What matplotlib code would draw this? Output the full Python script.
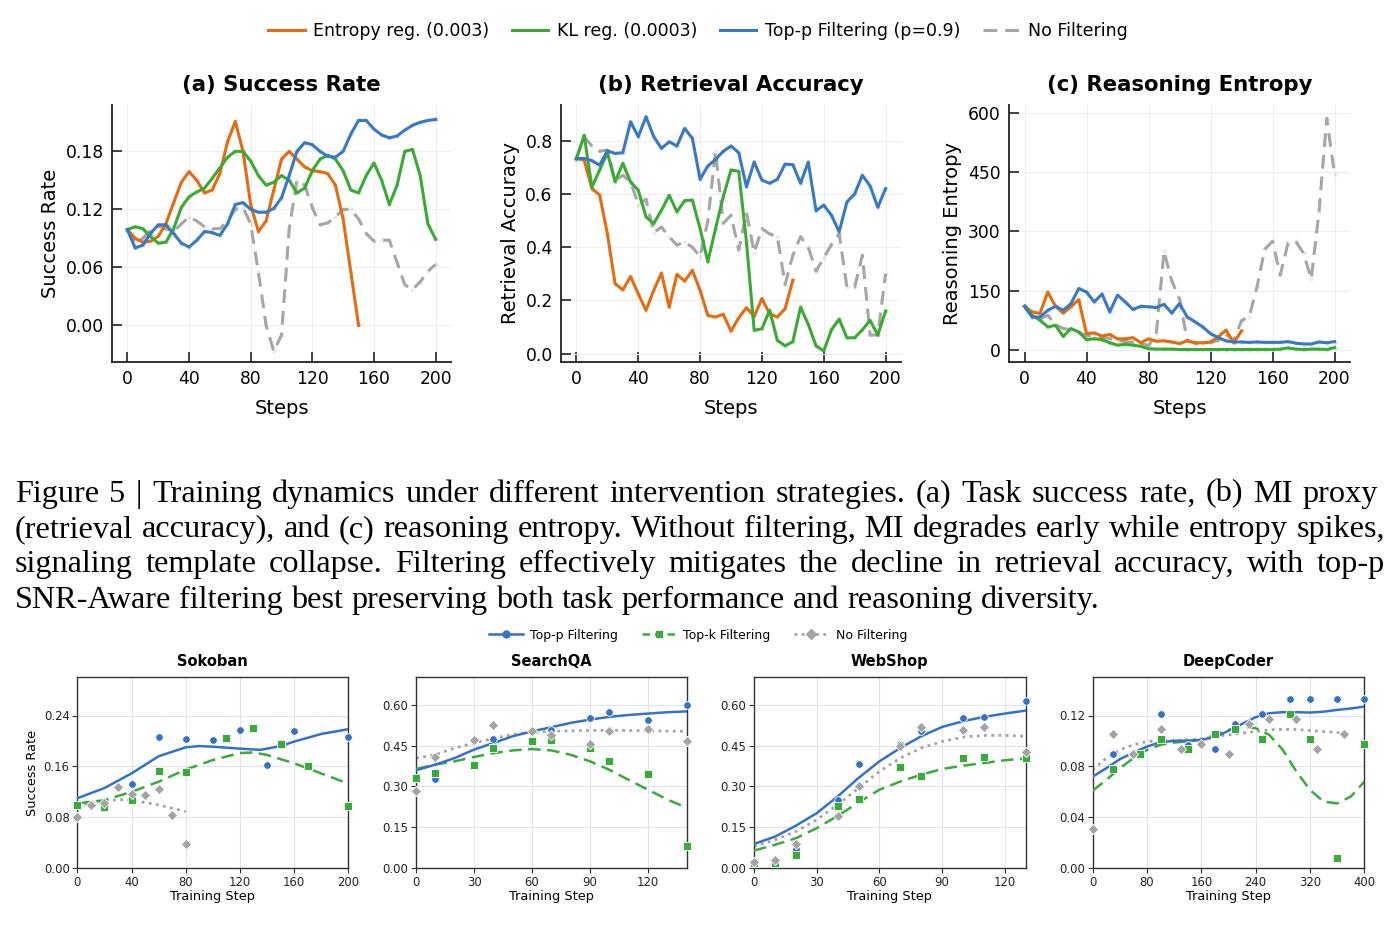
import numpy as np
import matplotlib
matplotlib.use("Agg")
import matplotlib.pyplot as plt
from matplotlib.lines import Line2D

# ---------------- DATA: top figure ----------------
steps_a = list(range(0, 205, 5))
steps_a_ent = list(range(0, 155, 5))
steps_b_ent = list(range(0, 145, 5))

a_entropy = [0.099, 0.090, 0.086, 0.087, 0.092, 0.105, 0.127, 0.148, 0.159, 0.150, 0.137, 0.140,
             0.157, 0.190, 0.211, 0.180, 0.125, 0.097, 0.108, 0.140, 0.172, 0.180, 0.172, 0.164,
             0.160, 0.159, 0.157, 0.145, 0.110, 0.055, 0.000]
a_kl = [0.099, 0.102, 0.100, 0.092, 0.085, 0.086, 0.100, 0.122, 0.133, 0.138, 0.142, 0.152, 0.163,
        0.174, 0.180, 0.180, 0.170, 0.155, 0.145, 0.148, 0.155, 0.150, 0.137, 0.142, 0.160, 0.172,
        0.176, 0.172, 0.160, 0.140, 0.137, 0.155, 0.168, 0.150, 0.125, 0.145, 0.180, 0.182, 0.155,
        0.105, 0.089]
a_topp = [0.099, 0.080, 0.083, 0.095, 0.104, 0.104, 0.095, 0.085, 0.081, 0.088, 0.097, 0.096, 0.093,
          0.105, 0.125, 0.127, 0.120, 0.117, 0.117, 0.121, 0.132, 0.155, 0.180, 0.189, 0.187, 0.180,
          0.175, 0.174, 0.180, 0.198, 0.212, 0.212, 0.203, 0.197, 0.194, 0.196, 0.202, 0.207, 0.210,
          0.212, 0.213]
a_nofilt = [0.099, 0.085, 0.090, 0.098, 0.103, 0.100, 0.097, 0.105, 0.112, 0.108, 0.102, 0.100, 0.100,
            0.108, 0.120, 0.122, 0.105, 0.055, 0.000, -0.027, -0.010, 0.100, 0.150, 0.145, 0.122,
            0.104, 0.106, 0.112, 0.120, 0.120, 0.110, 0.095, 0.087, 0.088, 0.088, 0.065, 0.042, 0.037,
            0.045, 0.056, 0.063]

b_entropy = [0.733, 0.727, 0.620, 0.596, 0.451, 0.263, 0.240, 0.290, 0.225, 0.163, 0.238, 0.303,
             0.175, 0.298, 0.273, 0.313, 0.238, 0.144, 0.138, 0.148, 0.085, 0.135, 0.173, 0.140,
             0.207, 0.150, 0.138, 0.169, 0.276]
b_kl = [0.733, 0.820, 0.625, 0.690, 0.755, 0.646, 0.715, 0.645, 0.614, 0.514, 0.489, 0.539, 0.595,
        0.533, 0.575, 0.577, 0.470, 0.345, 0.470, 0.590, 0.690, 0.685, 0.420, 0.088, 0.094, 0.163,
        0.050, 0.030, 0.045, 0.175, 0.110, 0.030, 0.010, 0.090, 0.130, 0.060, 0.060, 0.090, 0.125,
        0.070, 0.160]
b_topp = [0.733, 0.733, 0.725, 0.708, 0.762, 0.752, 0.755, 0.871, 0.815, 0.890, 0.815, 0.771, 0.796,
          0.780, 0.846, 0.809, 0.655, 0.705, 0.730, 0.760, 0.780, 0.755, 0.627, 0.720, 0.652, 0.640,
          0.655, 0.712, 0.710, 0.640, 0.720, 0.537, 0.558, 0.520, 0.458, 0.570, 0.600, 0.670, 0.630,
          0.550, 0.620]
b_nofilt = [0.733, 0.815, 0.780, 0.760, 0.765, 0.650, 0.670, 0.646, 0.560, 0.580, 0.455, 0.476, 0.439,
            0.408, 0.420, 0.400, 0.364, 0.500, 0.760, 0.490, 0.520, 0.390, 0.530, 0.380, 0.470, 0.450,
            0.440, 0.260, 0.370, 0.440, 0.400, 0.310, 0.360, 0.410, 0.450, 0.250, 0.250, 0.370, 0.070,
            0.070, 0.300]

c_entropy = [111, 97, 93, 147, 111, 94, 110, 128, 42, 44, 36, 40, 29, 29, 32, 19, 29, 23, 24, 21, 17,
             24, 19, 19, 21, 34, 51, 19, 49]
c_kl = [111, 88, 76, 59, 63, 35, 55, 46, 27, 29, 27, 19, 13, 15, 13, 10, 4, 3, 3, 3, 2, 2, 2, 2, 2, 2,
        2, 2, 2, 2, 2, 2, 2, 3, 6, 3, 2, 3, 3, 2, 7]
c_topp = [111, 84, 84, 101, 111, 101, 118, 156, 147, 122, 142, 97, 139, 122, 103, 111, 110, 108, 116,
          94, 118, 84, 72, 59, 42, 32, 24, 21, 21, 20, 21, 20, 20, 20, 22, 18, 16, 16, 21, 19, 22]
c_nofilt = [111, 84, 80, 88, 65, 55, 52, 45, 38, 35, 32, 30, 25, 22, 20, 18, 12, 40, 250, 175, 130, 25,
            18, 18, 20, 25, 40, 25, 75, 85, 160, 255, 275, 190, 270, 275, 245, 180, 350, 585, 445]

top_legend = ["Entropy reg. (0.003)", "KL reg. (0.0003)", "Top-p Filtering (p=0.9)", "No Filtering"]
top_titles = ["(a) Success Rate", "(b) Retrieval Accuracy", "(c) Reasoning Entropy"]
top_ylabels = ["Success Rate", "Retrieval Accuracy", "Reasoning Entropy"]

# ---------------- DATA: bottom figure ----------------
bot_titles = ["Sokoban", "SearchQA", "WebShop", "DeepCoder"]
bot_legend = ["Top-p Filtering", "Top-k Filtering", "No Filtering"]

sok_p_x = [40, 60, 80, 100, 120, 140, 160, 200]
sok_p_y = [0.133, 0.207, 0.203, 0.202, 0.217, 0.162, 0.215, 0.207]
sok_k_x = [0, 20, 40, 60, 80, 110, 130, 150, 170, 200]
sok_k_y = [0.100, 0.096, 0.107, 0.153, 0.151, 0.205, 0.221, 0.195, 0.161, 0.098]
sok_n_x = [0, 10, 20, 30, 40, 50, 60, 70, 80]
sok_n_y = [0.080, 0.100, 0.102, 0.127, 0.117, 0.115, 0.125, 0.084, 0.038]
sok_pf_x = [0, 20, 40, 60, 80, 90, 100, 120, 135, 150, 160, 180, 200]
sok_pf_y = [0.110, 0.126, 0.149, 0.176, 0.190, 0.192, 0.191, 0.188, 0.186, 0.192, 0.199, 0.211, 0.2185]
sok_kf_x = [0, 20, 40, 60, 80, 100, 120, 130, 140, 160, 180, 200]
sok_kf_y = [0.102, 0.107, 0.120, 0.136, 0.155, 0.170, 0.181, 0.182, 0.178, 0.165, 0.149, 0.133]
sok_nf_x = [0, 20, 30, 40, 60, 80]
sok_nf_y = [0.0985, 0.105, 0.108, 0.107, 0.0996, 0.089]

sqa_p_x = [10, 40, 70, 90, 100, 120, 140]
sqa_p_y = [0.328, 0.475, 0.508, 0.550, 0.571, 0.542, 0.598]
sqa_k_x = [0, 10, 30, 40, 60, 70, 90, 100, 120, 140]
sqa_k_y = [0.331, 0.351, 0.378, 0.442, 0.465, 0.469, 0.440, 0.393, 0.345, 0.082]
sqa_n_x = [0, 10, 30, 40, 60, 70, 90, 100, 120, 140]
sqa_n_y = [0.282, 0.407, 0.469, 0.527, 0.504, 0.489, 0.457, 0.504, 0.512, 0.465]
sqa_pf_x = [0, 10, 20, 30, 40, 50, 60, 70, 80, 90, 100, 110, 120, 130, 140]
sqa_pf_y = [0.359, 0.380, 0.404, 0.435, 0.459, 0.484, 0.502, 0.517, 0.533, 0.545, 0.555, 0.562, 0.567, 0.572, 0.575]
sqa_kf_x = [0, 10, 20, 30, 40, 50, 60, 70, 80, 90, 100, 110, 120, 130, 140]
sqa_kf_y = [0.364, 0.380, 0.392, 0.408, 0.422, 0.432, 0.437, 0.432, 0.416, 0.392, 0.361, 0.324, 0.288, 0.252, 0.222]
sqa_nf_x = [0, 10, 20, 30, 40, 50, 60, 70, 80, 100, 120, 140]
sqa_nf_y = [0.404, 0.416, 0.441, 0.459, 0.476, 0.490, 0.498, 0.502, 0.504, 0.506, 0.504, 0.502]

web_p_x = [20, 40, 50, 70, 80, 100, 110, 130]
web_p_y = [0.071, 0.251, 0.383, 0.457, 0.502, 0.551, 0.555, 0.612]
web_k_x = [0, 10, 20, 40, 50, 70, 80, 100, 110, 130]
web_k_y = [0.018, 0.021, 0.049, 0.227, 0.255, 0.371, 0.340, 0.403, 0.408, 0.404]
web_n_x = [0, 10, 20, 40, 50, 70, 80, 100, 110, 130]
web_n_y = [0.024, 0.031, 0.089, 0.190, 0.300, 0.449, 0.517, 0.508, 0.519, 0.425]
web_pf_x = [0, 10, 20, 30, 40, 50, 60, 70, 80, 90, 100, 110, 120, 130]
web_pf_y = [0.089, 0.116, 0.156, 0.202, 0.263, 0.331, 0.392, 0.441, 0.484, 0.518, 0.539, 0.555, 0.567, 0.578]
web_kf_x = [0, 10, 20, 30, 40, 50, 60, 70, 80, 90, 100, 110, 120, 130]
web_kf_y = [0.065, 0.086, 0.110, 0.147, 0.192, 0.241, 0.288, 0.318, 0.343, 0.364, 0.376, 0.386, 0.396, 0.403]
web_nf_x = [0, 10, 20, 30, 40, 50, 60, 70, 80, 90, 100, 110, 120, 130]
web_nf_y = [0.080, 0.104, 0.135, 0.178, 0.233, 0.294, 0.355, 0.404, 0.441, 0.465, 0.481, 0.487, 0.487, 0.484]

dc_p_x = [30, 60, 100, 140, 180, 210, 250, 290, 320, 360, 400]
dc_p_y = [0.0899, 0.090, 0.1208, 0.097, 0.0938, 0.1134, 0.1208, 0.1326, 0.1326, 0.1326, 0.1326]
dc_k_x = [30, 70, 100, 140, 180, 210, 250, 290, 320, 360, 400]
dc_k_y = [0.078, 0.0899, 0.1014, 0.094, 0.1053, 0.1092, 0.1014, 0.1213, 0.1014, 0.0079, 0.0975]
dc_n_x = [0, 30, 60, 100, 130, 160, 200, 230, 260, 300, 330, 370]
dc_n_y = [0.0309, 0.1053, 0.0899, 0.1092, 0.0938, 0.0975, 0.0899, 0.1134, 0.1171, 0.1171, 0.0938, 0.1053]
dc_pf_x = [0, 20, 40, 60, 80, 100, 120, 140, 160, 180, 200, 220, 240, 260, 280, 300, 320, 340, 360, 380, 400]
dc_pf_y = [0.072, 0.0786, 0.0857, 0.0909, 0.0956, 0.0990, 0.1001, 0.1003, 0.1009, 0.1030, 0.1080, 0.1134,
           0.1187, 0.1218, 0.1226, 0.1226, 0.1223, 0.1230, 0.1244, 0.1255, 0.1270]
dc_kf_x = [0, 20, 40, 60, 80, 100, 120, 140, 160, 180, 200, 220, 240, 260, 280, 300, 320, 340, 360, 380, 400]
dc_kf_y = [0.061, 0.0694, 0.0786, 0.0865, 0.0930, 0.0970, 0.0988, 0.0996, 0.1009, 0.1048, 0.1087, 0.1113,
           0.1100, 0.1048, 0.0930, 0.0760, 0.0616, 0.0524, 0.0510, 0.0563, 0.0680]
dc_nf_x = [0, 20, 40, 60, 80, 100, 120, 140, 160, 180, 200, 220, 240, 260, 280, 300, 320, 340, 360, 370]
dc_nf_y = [0.0773, 0.0865, 0.0930, 0.0970, 0.0996, 0.1003, 0.1003, 0.1009, 0.1017, 0.1035, 0.1048, 0.1061,
           0.1074, 0.1087, 0.1092, 0.1090, 0.1082, 0.1074, 0.1066, 0.1061]

caption_lines = [
    "Figure 5 | Training dynamics under different intervention strategies. (a) Task success rate, (b) MI proxy",
    "(retrieval accuracy), and (c) reasoning entropy. Without filtering, MI degrades early while entropy spikes,",
    "signaling template collapse. Filtering effectively mitigates the decline in retrieval accuracy, with top-p",
    "SNR-Aware filtering best preserving both task performance and reasoning diversity.",
]

# ---------------- STYLE ----------------
C_OR = "#e36c12"
C_GR = "#3aaa35"
C_BL = "#3a78c4"
C_GY = "#a6a6a6"
B_BL = "#3572c6"
B_GR = "#3aaa3a"
B_GY = "#a4a4a4"

W, H = 1396, 931
fig = plt.figure(figsize=(W / 100, H / 100), dpi=100)
plt.rcParams["font.family"] = ["DejaVu Sans"]


def fr(left, top, right, bottom):
    return [left / W, 1 - bottom / H, (right - left) / W, (bottom - top) / H]


top_boxes = [fr(112, 105, 451, 362), fr(561, 105, 901, 362), fr(1009, 105, 1350, 362)]
top_data = [
    [(steps_a_ent, a_entropy), (steps_a, a_kl), (steps_a, a_topp), (steps_a, a_nofilt)],
    [(steps_b_ent, b_entropy), (steps_a, b_kl), (steps_a, b_topp), (steps_a, b_nofilt)],
    [(steps_b_ent, c_entropy), (steps_a, c_kl), (steps_a, c_topp), (steps_a, c_nofilt)],
]
top_ylim = [(-0.038, 0.228), (-0.031, 0.934), (-29.5, 619)]
top_yticks = [[0.0, 0.06, 0.12, 0.18], [0.0, 0.2, 0.4, 0.6, 0.8], [0, 150, 300, 450, 600]]
top_yfmt = ["{:.2f}", "{:.1f}", "{:.0f}"]
colors = [C_OR, C_GR, C_BL, C_GY]

handles_top = []
for i in range(3):
    ax = fig.add_axes(top_boxes[i])
    for j, (xs, ys) in enumerate(top_data[i]):
        ax.scatter(xs, ys, s=10, color=colors[j], alpha=0.22, lw=0, zorder=2)
        if j == 3:
            ln, = ax.plot(xs, ys, color=colors[j], lw=2.2, ls=(0, (4.5, 2.6)), zorder=1.5)
        else:
            ln, = ax.plot(xs, ys, color=colors[j], lw=2.2, zorder=3 + (j == 2),
                          solid_joinstyle="round")
        if i == 0:
            handles_top.append(ln)
    ax.set_xlim(-10, 210)
    ax.set_ylim(*top_ylim[i])
    ax.set_xticks([0, 40, 80, 120, 160, 200])
    ax.set_yticks(top_yticks[i])
    ax.set_yticklabels([top_yfmt[i].format(v) for v in top_yticks[i]])
    for s in ["top", "right"]:
        ax.spines[s].set_visible(False)
    for s in ["left", "bottom"]:
        ax.spines[s].set_linewidth(1.3)
        ax.spines[s].set_color("#222222")
    ax.tick_params(direction="in", length=7, width=1.2, labelsize=12.3, pad=6, colors="#222222",
                   labelcolor="black")
    ax.grid(True, color="#eeeeee", lw=0.8)
    ax.set_axisbelow(True)
    ax.set_title(top_titles[i], fontsize=15.3, fontweight="bold", pad=10)
    ax.set_xlabel("Steps", fontsize=14, labelpad=8)
    ax.set_ylabel(top_ylabels[i], fontsize=14, labelpad=4)

fig.legend(handles_top, top_legend, loc="center", bbox_to_anchor=(0.5, 1 - 31 / H), ncol=4,
           frameon=False, fontsize=12.5, handlelength=2.1, handletextpad=0.5, columnspacing=1.3)

# ---------------- bottom panels ----------------
bot_boxes = [fr(77.3, 677.3, 348.3, 868.3), fr(416, 677.3, 686.7, 868.3),
             fr(754, 677.3, 1025.7, 868.3), fr(1092.7, 677.3, 1364.3, 868.3)]
bot_sets = [
    (sok_p_x, sok_p_y, sok_k_x, sok_k_y, sok_n_x, sok_n_y, sok_pf_x, sok_pf_y, sok_kf_x, sok_kf_y, sok_nf_x, sok_nf_y),
    (sqa_p_x, sqa_p_y, sqa_k_x, sqa_k_y, sqa_n_x, sqa_n_y, sqa_pf_x, sqa_pf_y, sqa_kf_x, sqa_kf_y, sqa_nf_x, sqa_nf_y),
    (web_p_x, web_p_y, web_k_x, web_k_y, web_n_x, web_n_y, web_pf_x, web_pf_y, web_kf_x, web_kf_y, web_nf_x, web_nf_y),
    (dc_p_x, dc_p_y, dc_k_x, dc_k_y, dc_n_x, dc_n_y, dc_pf_x, dc_pf_y, dc_kf_x, dc_kf_y, dc_nf_x, dc_nf_y),
]
bot_xlim = [(0, 200), (0, 140), (0, 130), (0, 400)]
bot_xticks = [[0, 40, 80, 120, 160, 200], [0, 30, 60, 90, 120], [0, 30, 60, 90, 120],
              [0, 80, 160, 240, 320, 400]]
bot_ylim = [(0, 0.30), (0, 0.70), (0, 0.70), (0, 0.15)]
bot_yticks = [[0, 0.08, 0.16, 0.24], [0, 0.15, 0.30, 0.45, 0.60], [0, 0.15, 0.30, 0.45, 0.60],
              [0, 0.04, 0.08, 0.12]]

for i in range(4):
    ax = fig.add_axes(bot_boxes[i])
    px, py, kx, ky, nx, ny, pfx, pfy, kfx, kfy, nfx, nfy = bot_sets[i]
    ax.plot(nfx, nfy, color=B_GY, lw=2.0, ls=(0, (1, 1.6)), zorder=2)
    ax.plot(kfx, kfy, color=B_GR, lw=1.8, ls=(0, (5, 2.6)), zorder=3)
    ax.plot(pfx, pfy, color=B_BL, lw=1.8, zorder=4)
    ax.scatter(px, py, marker="o", s=30, color=B_BL, edgecolor="white", lw=0.6, zorder=5, clip_on=False)
    ax.scatter(kx, ky, marker="s", s=28, color=B_GR, edgecolor="white", lw=0.6, zorder=6, clip_on=False)
    ax.scatter(nx, ny, marker="D", s=28, color=B_GY, edgecolor="white", lw=0.6, zorder=7, clip_on=False)
    ax.set_xlim(*bot_xlim[i])
    ax.set_ylim(*bot_ylim[i])
    ax.set_xticks(bot_xticks[i])
    ax.set_yticks(bot_yticks[i])
    ax.set_yticklabels(["{:.2f}".format(v) for v in bot_yticks[i]])
    ax.grid(True, color="#dfe4ee", lw=0.8)
    ax.set_axisbelow(True)
    for s in ax.spines.values():
        s.set_color("#333333")
        s.set_linewidth(1.0)
    ax.tick_params(labelsize=8.4, length=3.5, width=0.8, pad=2, colors="#333333", labelcolor="#222222")
    ax.set_title(bot_titles[i], fontsize=10.5, fontweight="bold", pad=8)
    ax.set_xlabel("Training Step", fontsize=9.3, labelpad=1)
    if i == 0:
        ax.set_ylabel("Success Rate", fontsize=9.3, labelpad=3)

bot_handles = [
    Line2D([], [], color=B_BL, lw=1.8, marker="o", markersize=5),
    Line2D([], [], color=B_GR, lw=1.8, ls=(0, (3, 2)), marker="s", markersize=5),
    Line2D([], [], color=B_GY, lw=2.0, ls=(0, (1, 1.6)), marker="D", markersize=5),
]
fig.legend(bot_handles, bot_legend, loc="center", bbox_to_anchor=(0.5, 1 - 635 / H), ncol=3,
           frameon=False, fontsize=9, handlelength=2.7, handletextpad=0.6, columnspacing=1.9,
           numpoints=1)

# ---------------- caption (justified) ----------------
renderer = fig.canvas.get_renderer()
cap_font = "Liberation Serif"
x_left, x_right = 15, 1385
baselines = [501.7, 537.0, 572.3, 607.6]

probe = fig.text(0, 0, caption_lines[1], fontsize=20, family=cap_font)
w20 = probe.get_window_extent(renderer).width
probe.remove()
cap_size = 20 * (x_right - x_left - 6) / w20

sp = fig.text(0, 0, "a a", fontsize=cap_size, family=cap_font)
wsp = sp.get_window_extent(renderer).width
sp.remove()
sa = fig.text(0, 0, "aa", fontsize=cap_size, family=cap_font)
space_w = wsp - sa.get_window_extent(renderer).width
sa.remove()

targets = [1378, 1385, 1385, None]
for li, line in enumerate(caption_lines):
    words = line.split(" ")
    widths = []
    for wd in words:
        t = fig.text(0, 0, wd, fontsize=cap_size, family=cap_font)
        widths.append(t.get_window_extent(renderer).width)
        t.remove()
    if targets[li] is None:
        gap = space_w
    else:
        gap = (targets[li] - x_left - sum(widths)) / (len(words) - 1)
    x = x_left
    yb = 1 - baselines[li] / H
    for wd, wdt in zip(words, widths):
        fig.text(x / W, yb, wd, fontsize=cap_size, family=cap_font, va="baseline", ha="left")
        x += wdt + gap

fig.savefig("out.png", dpi=100)
